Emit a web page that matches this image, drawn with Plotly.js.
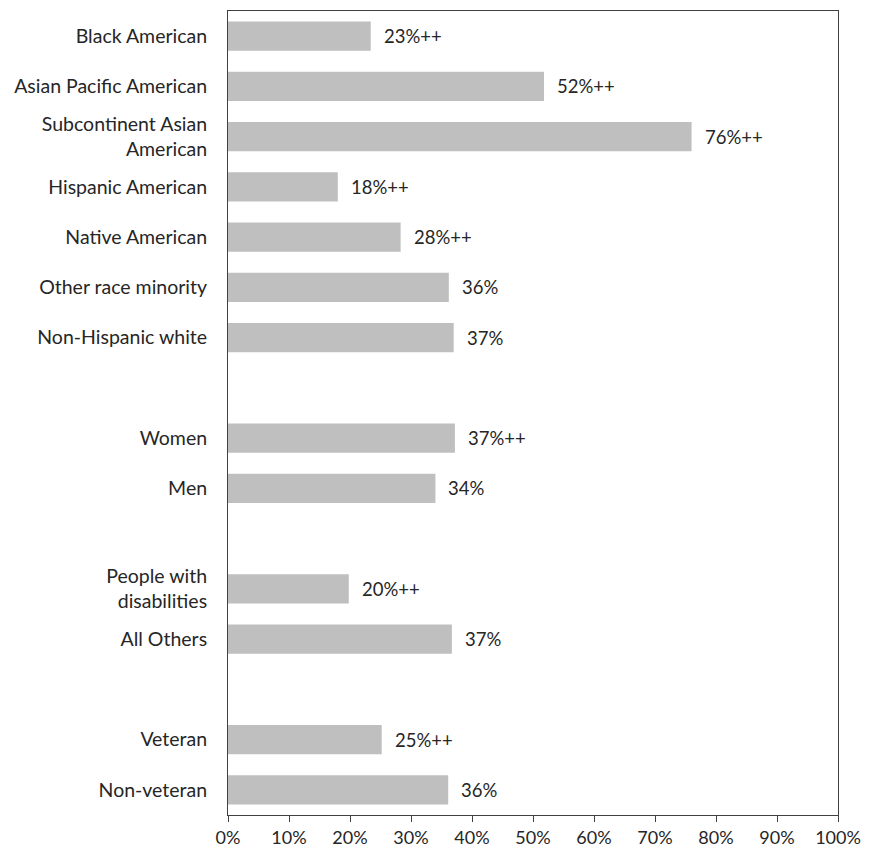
<!DOCTYPE html>
<html>
<head>
<meta charset="utf-8">
<script src="https://cdn.plot.ly/plotly-3.0.1.min.js"></script>
<style>html,body{margin:0;padding:0;background:#fff;}#chart{width:869px;height:853px;}</style>
</head>
<body>
<div id="chart"></div>
<script>
// null entries are the blank spacer rows between groups
var categories = [
  "Black American", "Asian Pacific American", "Subcontinent Asian<br>American",
  "Hispanic American", "Native American", "Other race minority", "Non-Hispanic white",
  null,
  "Women", "Men",
  null,
  "People with<br>disabilities", "All Others",
  null,
  "Veteran", "Non-veteran"
];
var values = [0.234, 0.518, 0.760, 0.180, 0.283, 0.362, 0.370, null, 0.372, 0.340, null, 0.198, 0.367, null, 0.252, 0.361];
var valueLabels = ["23%++", "52%++", "76%++", "18%++", "28%++", "36%", "37%", null, "37%++", "34%", null, "20%++", "37%", null, "25%++", "36%"];
var xTickLabels = ["0%","10%","20%","30%","40%","50%","60%","70%","80%","90%","100%"];

var FONT = "Lato, 'Open Sans', sans-serif";
var rows = categories.map(function(c, i){ return i; });
var tickvals = [], ticktext = [];
categories.forEach(function(c, i){ if (c !== null) { tickvals.push(i); ticktext.push(c); } });

var annotations = [];
values.forEach(function(v, i){
  if (v !== null) {
    annotations.push({
      x: v, y: i, xref: 'x', yref: 'y', text: valueLabels[i],
      showarrow: false, xanchor: 'left', yanchor: 'middle', xshift: 11,
      font: {family: FONT, size: 18.5, color: '#262626'}
    });
  }
});

var trace = {
  type: 'bar', orientation: 'h',
  x: values, y: rows,
  marker: {color: '#bfbfbf', line: {width: 0}},
  hoverinfo: 'skip'
};

var layout = {
  width: 869, height: 853,
  margin: {l: 228, r: 31, t: 11, b: 38, pad: 0},
  paper_bgcolor: '#fff', plot_bgcolor: '#fff',
  showlegend: false,
  bargap: 0.42,
  font: {family: FONT, size: 18, color: '#262626'},
  xaxis: {
    range: [0, 1], tickvals: xTickLabels.map(function(t, i){ return i / 10; }), ticktext: xTickLabels,
    ticks: 'outside', ticklen: 6, tickcolor: '#404040', tickwidth: 1,
    showgrid: false, zeroline: false, showline: true, linecolor: '#404040', linewidth: 1, mirror: true,
    tickfont: {family: FONT, size: 18, color: '#262626'}, fixedrange: true
  },
  yaxis: {
    range: [15.5, -0.5], tickvals: tickvals, ticktext: ticktext,
    ticks: '', ticklabelstandoff: 16,
    showgrid: false, zeroline: false, showline: true, linecolor: '#404040', linewidth: 1, mirror: true,
    tickfont: {family: FONT, size: 19.5, color: '#262626'}, fixedrange: true
  },
  annotations: annotations
};

Plotly.newPlot('chart', [trace], layout, {displayModeBar: false, staticPlot: true});
</script>
</body>
</html>
